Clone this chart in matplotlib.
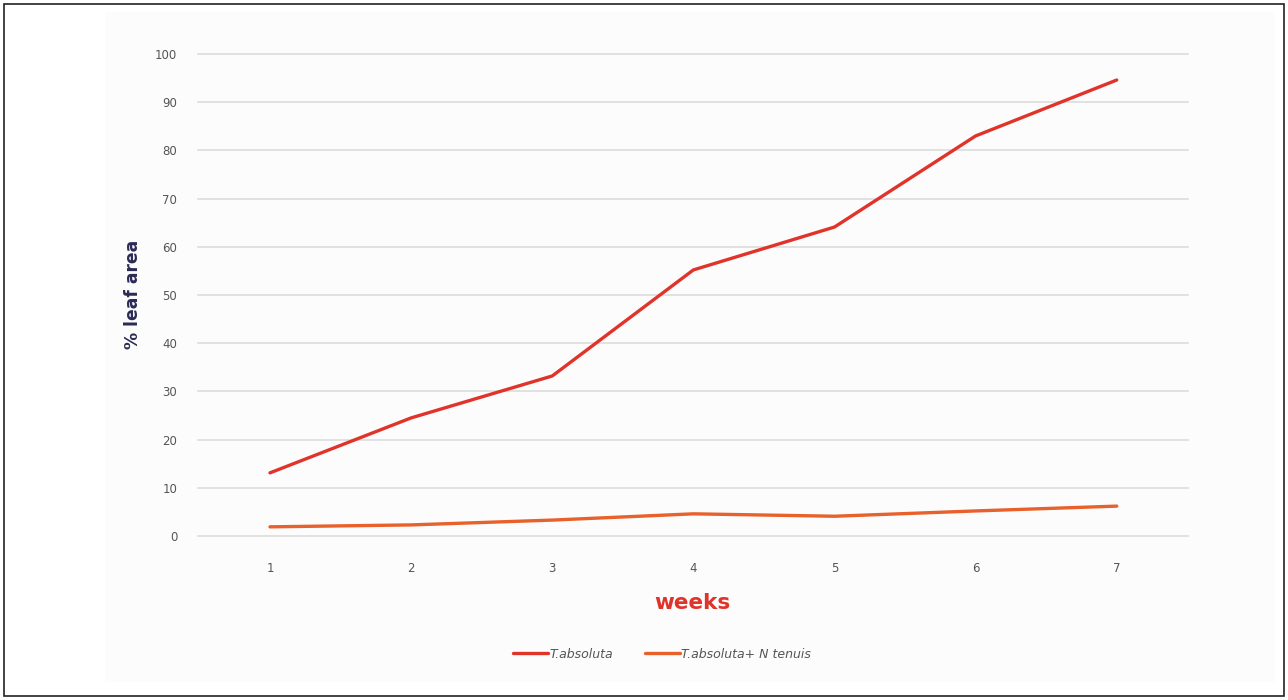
import matplotlib
matplotlib.use("Agg")
import matplotlib.pyplot as plt
from matplotlib.patches import Rectangle

weeks = [1, 2, 3, 4, 5, 6, 7]
t_absoluta = [13.1, 24.5, 33.2, 55.2, 64.1, 83.0, 94.6]
t_absoluta_n_tenuis = [1.9, 2.3, 3.3, 4.6, 4.1, 5.2, 6.2]
y_ticks = [0, 10, 20, 30, 40, 50, 60, 70, 80, 90, 100]

W, H = 1288, 700
fig = plt.figure(figsize=(W / 100, H / 100), dpi=100)
fig.patch.set_facecolor("white")

# faint panel behind the chart
panel = Rectangle((105 / W, 18 / H), 1170 / W, 670 / H, transform=fig.transFigure,
                  facecolor="#fcfcfc", edgecolor="none", zorder=-10)
fig.add_artist(panel)
# outer frame
frame = Rectangle((4 / W, 4 / H), 1280 / W, 692 / H, transform=fig.transFigure,
                  fill=False, edgecolor="#222222", linewidth=1.2, zorder=10)
fig.add_artist(frame)

ax = fig.add_axes([198 / W, (H - 536) / H, (1188 - 198) / W, (536 - 54) / H])
ax.set_facecolor("none")

ax.plot(weeks, t_absoluta, color="#e0342b", linewidth=2.4, label="T.absoluta",
        solid_capstyle="round", zorder=3)
ax.plot(weeks, t_absoluta_n_tenuis, color="#e8602a", linewidth=2.4,
        label="T.absoluta+ N tenuis", solid_capstyle="round", zorder=3)

ax.set_xlim(0.49, 7.505)
ax.set_ylim(0, 100)
ax.set_yticks(y_ticks)
ax.set_xticks(weeks)
ax.grid(axis="y", color="#d9d9d9", linewidth=1.1)
for gl in ax.get_ygridlines():
    gl.set_clip_on(False)
ax.set_axisbelow(True)
for s in ax.spines.values():
    s.set_visible(False)
ax.tick_params(length=0, labelsize=8.5, labelcolor="#555555")
ax.tick_params(axis="y", pad=15)
ax.tick_params(axis="x", pad=19)

fig.text(133 / W, 1 - 294 / H, "% leaf area", ha="center", va="center", rotation=90,
         fontsize=12.3, fontweight="bold", color="#2b2a55")
fig.text(692 / W, 1 - 603 / H, "weeks", ha="center", va="center", fontsize=15.5,
         fontweight="bold", color="#e0342b")

leg = fig.legend(loc="center", bbox_to_anchor=(662 / W, 1 - 654 / H), ncol=2, frameon=False,
                 handlelength=2.8, handletextpad=0.15, columnspacing=2.5,
                 prop={"size": 9, "style": "italic"})
for t in leg.get_texts():
    t.set_color("#555555")

fig.savefig("out.png", dpi=100)
